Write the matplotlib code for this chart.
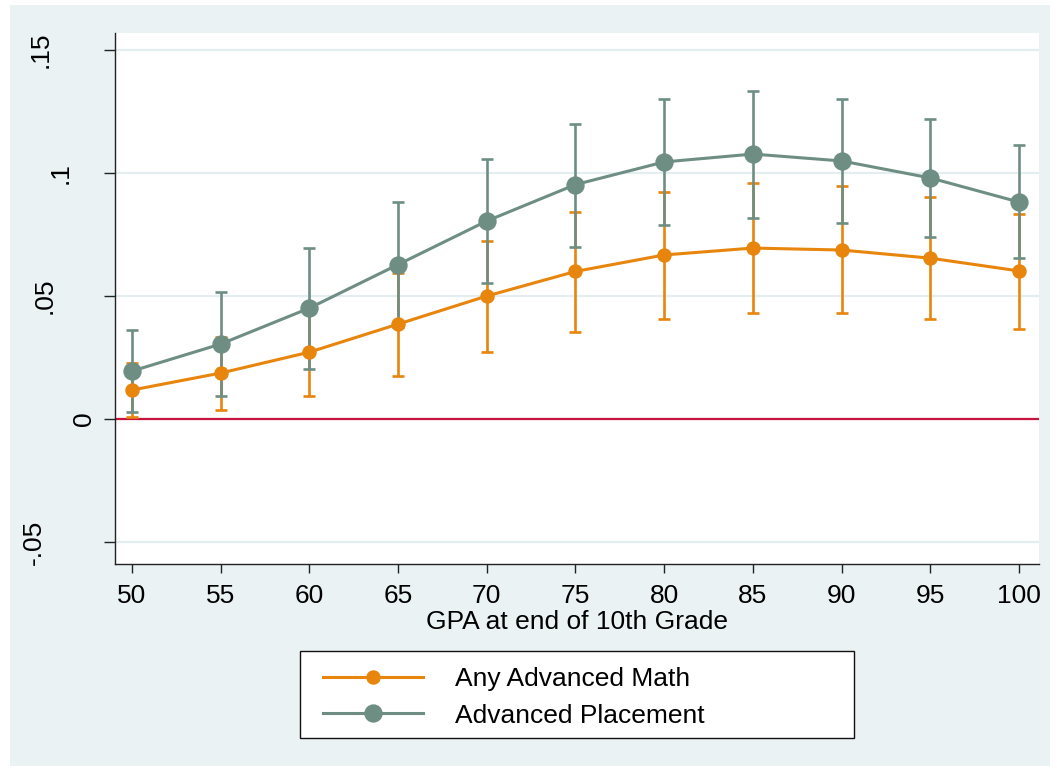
import matplotlib
matplotlib.use("Agg")
import matplotlib.pyplot as plt
from matplotlib.patches import Rectangle
from matplotlib.transforms import blended_transform_factory

# ---- data ----
gpa = [50, 55, 60, 65, 70, 75, 80, 85, 90, 95, 100]
math_est = [0.0118, 0.0187, 0.0272, 0.0386, 0.0500, 0.0600, 0.0667, 0.0695, 0.0687, 0.0654, 0.0602]
math_lo = [0.0010, 0.0037, 0.0093, 0.0175, 0.0272, 0.0354, 0.0407, 0.0431, 0.0431, 0.0407, 0.0366]
math_hi = [0.0228, 0.0333, 0.0450, 0.0593, 0.0724, 0.0841, 0.0923, 0.0959, 0.0947, 0.0902, 0.0833]
ap_est = [0.0195, 0.0305, 0.0451, 0.0628, 0.0805, 0.0953, 0.1045, 0.1077, 0.1049, 0.0980, 0.0882]
ap_lo = [0.0028, 0.0093, 0.0203, 0.0375, 0.0553, 0.0700, 0.0789, 0.0817, 0.0797, 0.0740, 0.0654]
ap_hi = [0.0362, 0.0516, 0.0695, 0.0882, 0.1055, 0.1200, 0.1300, 0.1333, 0.1300, 0.1220, 0.1114]
series_names = ["Any Advanced Math", "Advanced Placement"]
yticks = [-0.05, 0, 0.05, 0.1, 0.15]
ytick_labels = ["-.05", "0", ".05", ".1", ".15"]
xlabel = "GPA at end of 10th Grade"

# ---- style ----
W, H = 1057, 771
plt.rcParams['font.family'] = ['Liberation Sans', 'DejaVu Sans']
FS = 19
ORANGE = "#E8850C"
GRAY = "#6E8E84"
BG = "#EAF2F3"
GRID = "#E4EDEF"
RED = "#C8143C"

fig = plt.figure(figsize=(W / 100, H / 100), dpi=100)
fig.patch.set_facecolor("white")
fig.add_artist(Rectangle((10 / W, 1 - 766 / H), 1040 / W, 761 / H, transform=fig.transFigure,
                         facecolor=BG, edgecolor="none", zorder=-10))

ax = fig.add_axes([115 / W, 1 - 564 / H, 924 / W, 531 / H])
ax.set_facecolor("white")
ax.set_xlim(49.04, 101.13)
ax.set_ylim(-0.0589, 0.1569)

for s in ["top", "right"]:
    ax.spines[s].set_visible(False)
for s in ["left", "bottom"]:
    ax.spines[s].set_color("#222222")
    ax.spines[s].set_linewidth(1.0)

ax.set_yticks(yticks)
ax.set_yticklabels([])
ax.set_xticks(gpa)
ax.set_xticklabels([str(g) for g in gpa], fontsize=FS)
ax.tick_params(axis="x", direction="out", length=6.5, width=1, color="#222222", pad=8)
ax.tick_params(axis="y", direction="out", length=8, width=1, color="#222222")
ax.yaxis.grid(True, color=GRID, linewidth=1.6)
ax.set_axisbelow(True)

# rotated y labels, Stata-like placement
label_x_px = {"-.05": 34, "0": 84, ".05": 45, ".1": 61, ".15": 41}
tr = blended_transform_factory(fig.transFigure, ax.transData)
for v, lab in zip(yticks, ytick_labels):
    ax.text(label_x_px[lab] / W, v, lab, transform=tr, rotation=90, ha="center", va="center",
            fontsize=FS, clip_on=False)

ax.axhline(0, color=RED, linewidth=1.6, zorder=2)

m_err = [[e - l for e, l in zip(math_est, math_lo)], [h - e for e, h in zip(math_est, math_hi)]]
a_err = [[e - l for e, l in zip(ap_est, ap_lo)], [h - e for e, h in zip(ap_est, ap_hi)]]
ax.errorbar(gpa, math_est, yerr=m_err, fmt="none", ecolor=ORANGE, elinewidth=1.9,
            capsize=4.3, capthick=1.9, zorder=3)
ax.errorbar(gpa, ap_est, yerr=a_err, fmt="none", ecolor=GRAY, elinewidth=1.9,
            capsize=4.3, capthick=1.9, zorder=3)
l1, = ax.plot(gpa, math_est, color=ORANGE, linewidth=2.2, marker="o", markersize=9.4,
              label=series_names[0], zorder=4)
l2, = ax.plot(gpa, ap_est, color=GRAY, linewidth=2.2, marker="o", markersize=12.2,
              label=series_names[1], zorder=5)

ax.set_xlabel(xlabel, fontsize=FS, labelpad=1)

# legend box
fig.add_artist(Rectangle((300 / W, 1 - 738 / H), 554 / W, 87 / H, transform=fig.transFigure,
                         facecolor="white", edgecolor="#111111", linewidth=1.0, zorder=1))
leg = fig.legend(handles=[l1, l2], loc="upper left", bbox_to_anchor=(323 / W, 1 - 667 / H),
                 frameon=False, fontsize=FS, handlelength=3.8, handletextpad=1.2,
                 labelspacing=0.48, borderpad=0, borderaxespad=0)
leg.set_zorder(2)

fig.savefig("out.png", dpi=100)
